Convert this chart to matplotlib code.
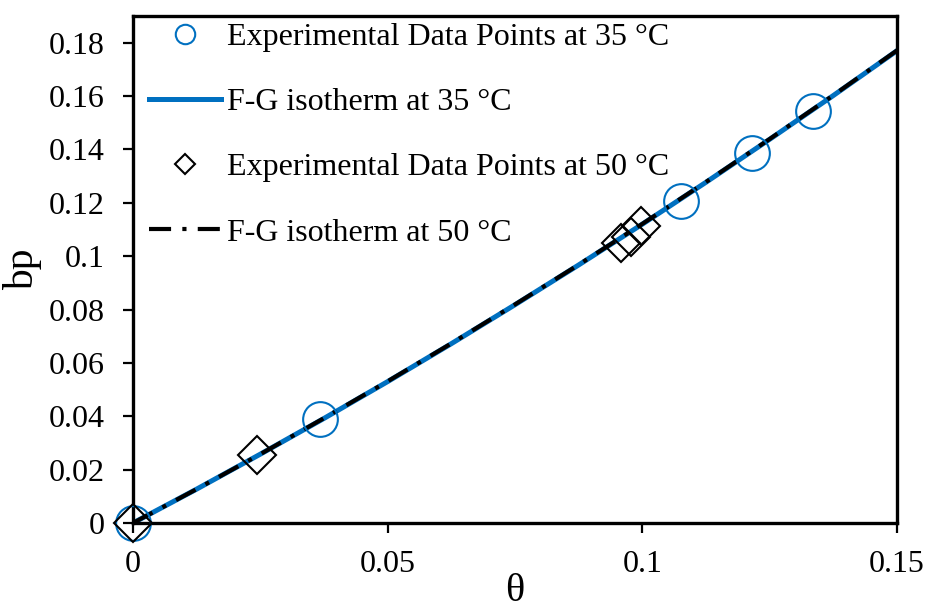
import matplotlib
matplotlib.use("Agg")
import matplotlib.pyplot as plt
from matplotlib.lines import Line2D

plt.rcParams['font.family'] = ['Liberation Serif', 'DejaVu Serif']

# Experimental data at 35 °C
theta_35 = [0.0, 0.0367, 0.1075, 0.1215, 0.1335]
bp_35 = [0.0, 0.039, 0.1207, 0.1387, 0.1545]

# Experimental data at 50 °C
theta_50 = [0.0, 0.0243, 0.0958, 0.0978, 0.0997]
bp_50 = [0.0, 0.0255, 0.105, 0.1073, 0.1114]

# F-G isotherm curves
theta_fit = [0.0, 0.0125, 0.025, 0.0375, 0.05, 0.0625, 0.075, 0.0875,
             0.1, 0.1125, 0.125, 0.1375, 0.15]
bp_fit_35 = [0.0, 0.0127, 0.0258, 0.0392, 0.053, 0.0672, 0.0818, 0.0967,
             0.112, 0.1277, 0.1438, 0.1602, 0.177]
bp_fit_50 = [0.0, 0.0127, 0.0258, 0.0393, 0.0531, 0.0673, 0.0819, 0.0968,
             0.1121, 0.1278, 0.1439, 0.1603, 0.1771]

xtick_vals = [0, 0.05, 0.1, 0.15]
xtick_text = ['0', '0.05', '0.1', '0.15']
ytick_vals = [0, 0.02, 0.04, 0.06, 0.08, 0.1, 0.12, 0.14, 0.16, 0.18]
ytick_text = ['0', '0.02', '0.04', '0.06', '0.08', '0.1', '0.12',
              '0.14', '0.16', '0.18']

blue = '#0070C0'
dash_pat = (5.3, 2.7, 1, 2.7)

fig = plt.figure(figsize=(9.27, 6.13), dpi=100)
ax = fig.add_axes([133/927, 1-523/613, (897-133)/927, (523-16)/613])

ax.plot(theta_fit, bp_fit_35, color=blue, lw=3.6, zorder=2)
ax.plot(theta_fit, bp_fit_50, color='black', lw=3.0, dashes=dash_pat,
        dash_capstyle='butt', zorder=3)
ax.plot(theta_35, bp_35, 'o', ms=25, mfc='none', mec=blue, mew=1.5,
        zorder=4, clip_on=False)
ax.plot(theta_50, bp_50, 'D', ms=19.5, mfc='none', mec='black', mew=1.5,
        zorder=4, clip_on=False)

ax.set_xlim(0, 0.15)
ax.set_ylim(0, 0.19)
ax.set_xticks(xtick_vals)
ax.set_xticklabels(xtick_text)
ax.set_yticks(ytick_vals)
ax.set_yticklabels(ytick_text)
ax.tick_params(axis='both', direction='out', length=7, width=1.6,
               labelsize=23)
ax.tick_params(axis='x', pad=12.2)
ax.tick_params(axis='y', pad=13.2)
for s in ax.spines.values():
    s.set_linewidth(2.4)

ax.set_xlabel('θ', fontsize=29, labelpad=-4)
ax.set_ylabel('bp', fontsize=30, labelpad=5)

handles = [
    Line2D([], [], ls='none', marker='o', ms=14, mfc='none', mec=blue, mew=1.5),
    Line2D([], [], color=blue, lw=3.6),
    Line2D([], [], ls='none', marker='D', ms=10.3, mfc='none', mec='black', mew=1.5),
    Line2D([], [], color='black', lw=3.0, dashes=dash_pat, dash_capstyle='butt'),
]
labels = ['Experimental Data Points at 35 °C', 'F-G isotherm at 35 °C',
          'Experimental Data Points at 50 °C', 'F-G isotherm at 50 °C']
ax.legend(handles, labels, loc='upper left', bbox_to_anchor=(0.0, 1.018),
          frameon=False, fontsize=23, handlelength=2.25, handletextpad=0.19,
          labelspacing=1.12, borderaxespad=0.25, borderpad=0.25)

fig.savefig('out.png', dpi=100)
